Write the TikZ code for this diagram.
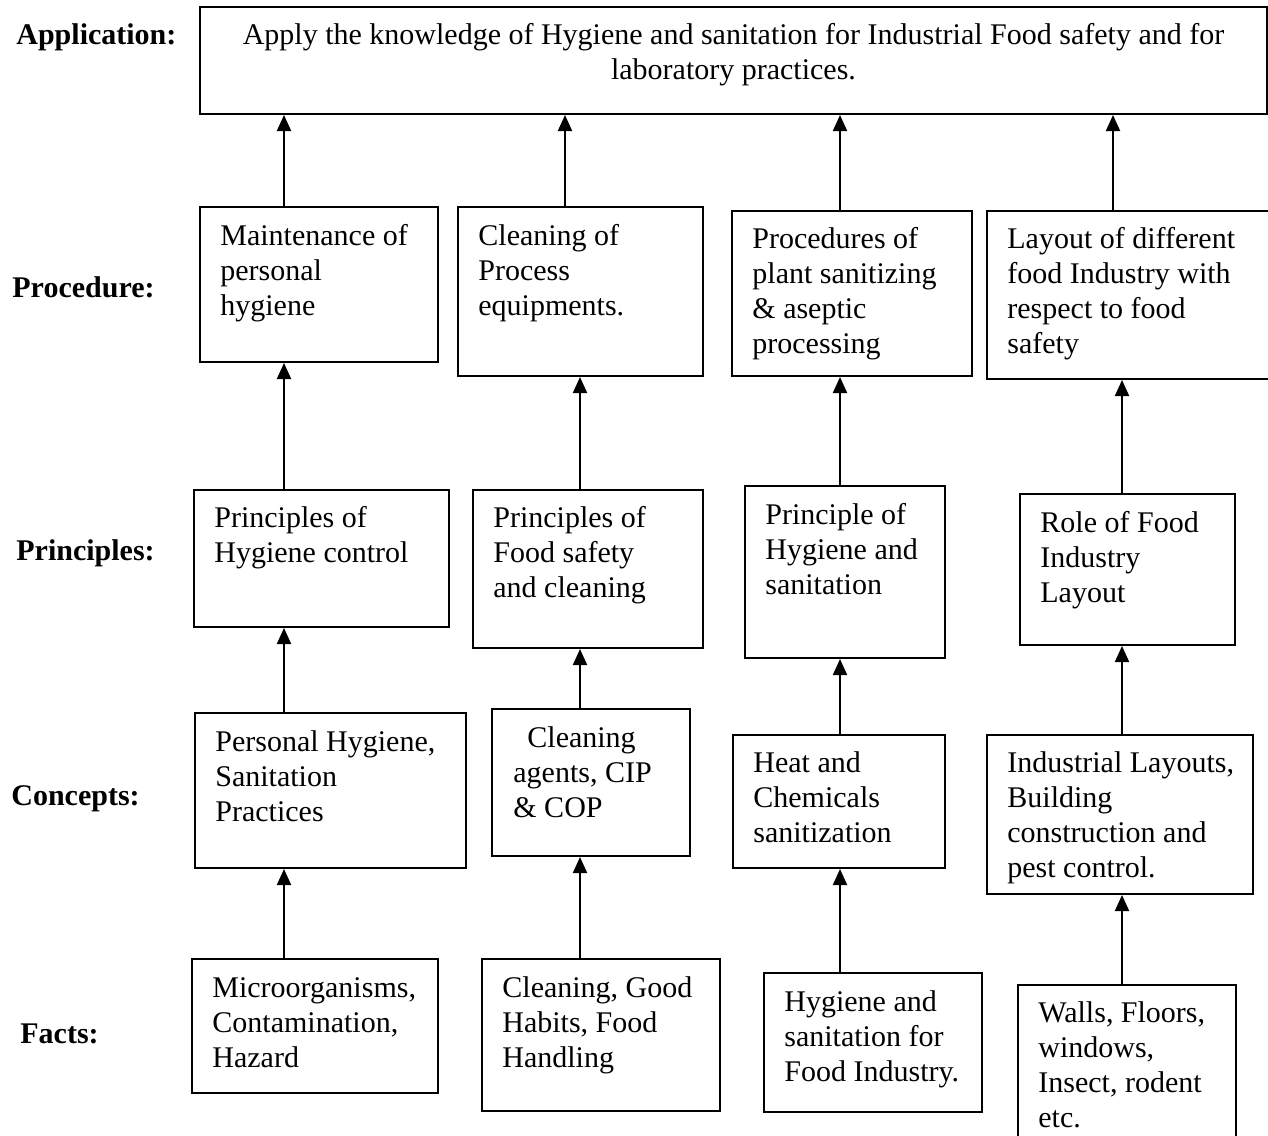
\documentclass[tikz,border=0pt]{standalone}
\usepackage{fontspec}
\setmainfont{Liberation Serif}
\usetikzlibrary{fit}
\usetikzlibrary{arrows.meta}
\usetikzlibrary{positioning}
\tikzset{
  box/.style={draw, line width=1pt, inner sep=0pt},
  txt/.style={anchor=north west, inner sep=0pt, align=left,
    font=\fontsize{15}{17.5}\selectfont},
  lvl/.style={anchor=base west, inner sep=0pt,
    font=\fontsize{15}{17.5}\selectfont\bfseries},
  arr/.style={line width=1pt, -{Triangle[width=7pt,length=8pt]}},
}

\begin{document}
\begin{tikzpicture}[x=0.5pt,y=-0.5pt]
  \useasboundingbox (0,0) rectangle (1268,1135);

  % level names
  \node[lvl] (lapp)  at (16,44)   {Application:};
  \node[lvl] (lproc) at (12,297)  {Procedure:};
  \node[lvl] (lprin) at (16,560)  {Principles:};
  \node[lvl] (lconc) at (11,805)  {Concepts:};
  \node[lvl] (lfact) at (20,1043) {Facts:};

  % application
  \node[box, fit={(200,7) (1267,114)}] (app) {};
  \node[txt, anchor=north, align=center] (appt) at (733.5,19.5)
    {\strut Apply the knowledge of Hygiene and sanitation for Industrial Food safety and for\\laboratory practices.};

  % procedure
  \node[box, fit={(200,207) (438,362)}] (p1) {};
  \node[box, fit={(458,207) (703,376)}] (p2) {};
  \node[box, fit={(732,211) (972,376)}] (p3) {};
  \node[box, fit={(987,211) (1269,379)}] (p4) {};
  \node[txt] (p1t) at (220,220.5)  {\strut Maintenance of\\personal\\hygiene};
  \node[txt] (p2t) at (478,220.5)  {\strut Cleaning of\\Process\\equipments.};
  \node[txt] (p3t) at (752,223.5)  {\strut Procedures of\\plant sanitizing\\\& aseptic\\processing};
  \node[txt] (p4t) at (1007,223.5) {\strut Layout of different\\food Industry with\\respect to food\\safety};

  % principles
  \node[box, fit={(194,490) (449,627)}]  (r1) {};
  \node[box, fit={(473,490) (703,648)}]  (r2) {};
  \node[box, fit={(745,486) (945,658)}]  (r3) {};
  \node[box, fit={(1020,494) (1235,645)}] (r4) {};
  \node[txt] (r1t) at (214,502.5)  {\strut Principles of\\Hygiene control};
  \node[txt] (r2t) at (493,502.5)  {\strut Principles of\\Food safety\\and cleaning};
  \node[txt] (r3t) at (765,499.5)  {\strut Principle of\\Hygiene and\\sanitation};
  \node[txt] (r4t) at (1040,507.5) {\strut Role of Food\\Industry\\Layout};

  % concepts
  \node[box, fit={(195,713) (466,868)}]  (c1) {};
  \node[box, fit={(492,709) (690,856)}]  (c2) {};
  \node[box, fit={(733,735) (945,868)}]  (c3) {};
  \node[box, fit={(987,735) (1253,894)}] (c4) {};
  \node[txt] (c1t) at (215,726.5)  {\strut Personal Hygiene,\\Sanitation\\Practices};
  \node[txt] (c2t) at (513,722.5)  {\strut\hspace*{7pt}Cleaning\\agents, CIP\\\& COP};
  \node[txt] (c3t) at (753,747.5)  {\strut Heat and\\Chemicals\\sanitization};
  \node[txt] (c4t) at (1007,747.5) {\strut Industrial Layouts,\\Building\\construction and\\pest control.};

  % facts
  \node[box, fit={(192,959) (438,1093)}]   (f1) {};
  \node[box, fit={(482,959) (720,1111)}]   (f2) {};
  \node[box, fit={(764,973) (982,1112)}]   (f3) {};
  \node[box, fit={(1018,985) (1236,1150)}] (f4) {};
  \node[txt] (f1t) at (212,972.5)  {\strut Microorganisms,\\Contamination,\\Hazard};
  \node[txt] (f2t) at (502,972.5)  {\strut Cleaning, Good\\Habits, Food\\Handling};
  \node[txt] (f3t) at (784,986.5)  {\strut Hygiene and\\sanitation for\\Food Industry.};
  \node[txt] (f4t) at (1038,997.5) {\strut Walls, Floors,\\windows,\\Insect, rodent\\etc.};

  % arrow columns
  \coordinate (k1) at (284,0);
  \coordinate (k2) at (565,0);
  \coordinate (k3) at (580,0);
  \coordinate (k4) at (840,0);
  \coordinate (k5) at (1113,0);
  \coordinate (k6) at (1122,0);

  \foreach \lo/\hi/\k in {p1/app/k1, p2/app/k2, p3/app/k4, p4/app/k5,
                          r1/p1/k1, r2/p2/k3, r3/p3/k4, r4/p4/k6,
                          c1/r1/k1, c2/r2/k3, c3/r3/k4, c4/r4/k6,
                          f1/c1/k1, f2/c2/k3, f3/c3/k4, f4/c4/k6}
    \draw[arr] (\lo.north -| \k) -- (\hi.south -| \k);
\end{tikzpicture}
\end{document}
